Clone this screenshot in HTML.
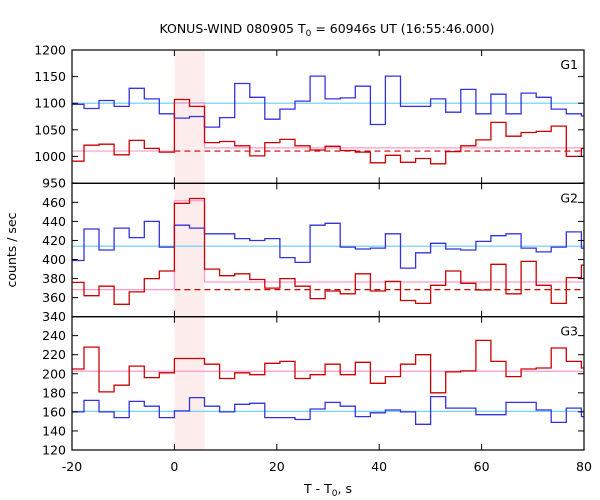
<!DOCTYPE html>
<html><head><meta charset="utf-8"><style>
body{margin:0;background:#fff;}
svg{display:block;font-family:"DejaVu Sans","Liberation Sans",sans-serif;}
</style></head><body>
<svg id="chart" width="600" height="500" viewBox="0 0 600 500"></svg>
<script>
const binWidth = 2.944;
const firstBin = -7;
const g1Blue = [1098,1090,1105,1094,1128,1108,1080,1072,1075,1055,1073,1137,1111,1070,1089,1104,1151,1108,1110,1132,1060,1151,1094,1094,1108,1083,1126,1080,1117,1080,1119,1111,1089,1080,1076];
const g1Red = [991,1021,1023,1003,1030,1015,1008,1107,1094,1026,1028,1020,1001,1026,1032,1020,1012,1019,1011,1008,988,1002,989,996,986,1009,1020,1031,1064,1038,1045,1047,1057,1000,1015];
const g2Blue = [399,432,410,433,423,440,413,436,433,427,427,422,420,422,402,397,436,438,413,411,412,427,391,407,417,411,410,419,425,427,412,408,413,429,412];
const g2Red = [376,362,372,353,366,380,388,459,464,390,383,385,379,370,380,372,359,367,364,385,367,377,357,354,373,388,375,368,395,364,398,373,354,381,394];
const g3Blue = [160,172,160,154,171,166,154,161,175,166,160,168,169,154,154,152,163,170,166,155,159,162,160,147,176,164,164,157,157,170,170,162,149,164,155];
const g3Red = [205,228,181,188,208,196,201,216,216,210,195,201,199,211,213,195,199,210,199,212,190,197,210,220,180,202,203,235,213,197,205,206,227,213,206];
const g1Levels = {cyan:1100, dashed:1010, pinkPre:1010, pinkBurst:1101, pinkPost:1016};
const g2Levels = {cyan:414, dashed:368.4, pinkPre:368.4, pinkBurst:461.7, pinkPost:376.4};
const g3Levels = {cyan:160.6, dashed:null, pinkPre:202.6, pinkBurst:202.6, pinkPost:202.6};
const xTicks = [-20,0,20,40,60,80];
const g1Ticks = [1200,1150,1100,1050,1000,950];
const g2Ticks = [460,440,420,400,380,360,340];
const g3Ticks = [240,220,200,180,160,140,120];
const burstStart = 0, burstEnd = 2*binWidth;

const L=72,R=584;
const X=t=>L+(t+20)*(R-L)/100;
const svg=document.getElementById('chart');
const NS='http://www.w3.org/2000/svg';
function mk(tag,attrs,parent){const e=document.createElementNS(NS,tag);for(const k in attrs)e.setAttribute(k,attrs[k]);(parent||svg).appendChild(e);return e;}

const panels=[
 {name:'g1',label:'G1',top:50,bot:183.3,blue:g1Blue,red:g1Red,lv:g1Levels,ticks:g1Ticks},
 {name:'g2',label:'G2',top:183.3,bot:316.7,blue:g2Blue,red:g2Red,lv:g2Levels,ticks:g2Ticks},
 {name:'g3',label:'G3',top:316.7,bot:450,blue:g3Blue,red:g3Red,lv:g3Levels,ticks:g3Ticks}
];
panels[0].Y=v=>50+(1200-v)*0.532;
panels[1].Y=v=>316.7-(v-340)*0.953;
panels[2].Y=v=>450-(v-120)*0.953;

function stepPath(vals,Y){
  let d='';
  vals.forEach((v,i)=>{
    const k=firstBin+i;
    const t0=Math.max(-20,k*binWidth), t1=Math.min(80,(k+1)*binWidth);
    const y=Y(v).toFixed(1);
    d+=(i===0?'M':'L')+X(t0).toFixed(1)+','+y+'L'+X(t1).toFixed(1)+','+y;
  });
  return d;
}

const shade=mk('rect',{x:X(burstStart),y:50,width:X(burstEnd)-X(burstStart),height:400,fill:'#fdecec'});



panels.forEach(p=>{
  const g=mk('g',{});
  
  
  const Y=p.Y, lv=p.lv;
  const c=mk('line',{x1:L,x2:R,y1:Y(lv.cyan),y2:Y(lv.cyan),stroke:'#66ccff','stroke-width':1.2},g);
  
  
  if(lv.dashed!==null){
    const dl=mk('line',{x1:X(0),x2:R,y1:Y(lv.dashed),y2:Y(lv.dashed),stroke:'#cc0000','stroke-width':1.2,'stroke-dasharray':'6,4'},g);
    
    
  }
  const pk=mk('path',{d:'M'+L+','+Y(lv.pinkPre)+'L'+X(burstStart)+','+Y(lv.pinkPre)+'L'+X(burstStart)+','+Y(lv.pinkBurst)+'L'+X(burstEnd)+','+Y(lv.pinkBurst)+'L'+X(burstEnd)+','+Y(lv.pinkPost)+'L'+R+','+Y(lv.pinkPost),fill:'none',stroke:'#ff99cc','stroke-width':1.2},g);
  
  
  const b=mk('path',{d:stepPath(p.blue,Y),fill:'none',stroke:'#3333dd','stroke-width':1.3},g);
  
  
  const r=mk('path',{d:stepPath(p.red,Y),fill:'none',stroke:'#cc0000','stroke-width':1.3},g);
  
  
  p.ticks.forEach(v=>{
    const y=Y(v);
    mk('line',{x1:L,x2:L+6,y1:y,y2:y,stroke:'#000'},g);
    mk('line',{x1:R-6,x2:R,y1:y,y2:y,stroke:'#000'},g);
    const tl=mk('text',{x:L-6,y:y+4.5,'text-anchor':'end','font-size':12.5,fill:'#000'},g);
    tl.textContent=v;
    
    
  });
  xTicks.forEach(t=>{
    mk('line',{x1:X(t),x2:X(t),y1:p.top,y2:p.top+6,stroke:'#000'},g);
    mk('line',{x1:X(t),x2:X(t),y1:p.bot-6,y2:p.bot,stroke:'#000'},g);
  });
  const lab=mk('text',{x:578,y:p.top+19,'text-anchor':'end','font-size':12.5,fill:'#000'},g);
  lab.textContent=p.label;
  
  
  const fr=mk('rect',{x:L,y:p.top,width:R-L,height:p.bot-p.top,fill:'none',stroke:'#000','stroke-width':1.2},g);
  
  
});

xTicks.forEach(t=>{
  const tl=mk('text',{x:X(t),y:471,'text-anchor':'middle','font-size':12.5,fill:'#000'});
  tl.textContent=t;
  
  
});
</script>
<svg style="position:absolute;left:0;top:0" width="600" height="500">
<text x="327" y="33" text-anchor="middle" font-size="12.5" font-family="DejaVu Sans, Liberation Sans, sans-serif">KONUS-WIND 080905 T<tspan font-size="9" dy="3">0</tspan><tspan dy="-3"> = 60946s UT (16:55:46.000)</tspan></text>
<text x="328" y="493" text-anchor="middle" font-size="12.5" font-family="DejaVu Sans, Liberation Sans, sans-serif">T - T<tspan font-size="9" dy="3">0</tspan><tspan dy="-3">, s</tspan></text>
<text x="0" y="0" transform="translate(16,250) rotate(-90)" text-anchor="middle" font-size="12.5" font-family="DejaVu Sans, Liberation Sans, sans-serif">counts / sec</text>
</svg>
</body></html>
